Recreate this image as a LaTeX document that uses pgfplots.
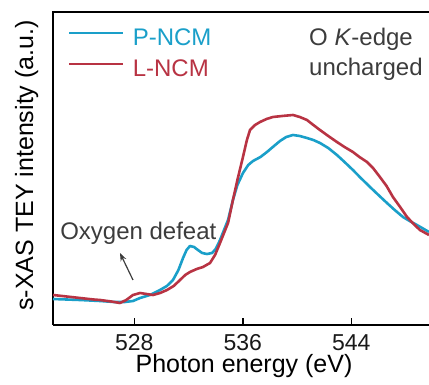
\documentclass[border=0pt]{standalone}
\usepackage{fontspec}
\setmainfont{Liberation Sans}
\usepackage{pgfplots}
\pgfplotsset{compat=1.18}
\usetikzlibrary{calc,arrows.meta}
\definecolor{pblue}{HTML}{1A9FC9}
\definecolor{lred}{HTML}{B83343}
\definecolor{anngray}{HTML}{3C3C3C}
\begin{document}
\begin{tikzpicture}
\begin{axis}[
  scale only axis, width=376pt, height=313pt,
  xmin=522, xmax=549.73, ymin=0, ymax=313,
  clip=false,
  axis lines*=left,
  axis line style={line width=1.6pt, black},
  xtick={528,536,544}, ytick=\empty,
  xtick align=inside, major tick length=7pt,
  tick style={line width=1.6pt, black},
  /pgf/number format/assume math mode=true,
  /pgf/number format/set thousands separator={},
  xticklabel style={font=\fontsize{23}{23}\selectfont, text=black!90, yshift=-6pt},
  xlabel={Photon energy (eV)},
  ylabel={s-XAS TEY intensity (a.u.)},
  every axis x label/.style={at={(rel axis cs:0.508,0)}, anchor=base, yshift=-48pt, font=\fontsize{25}{25}\selectfont, inner sep=0pt},
  every axis y label/.style={at={(rel axis cs:0,0.51)}, anchor=base, rotate=90, yshift=20pt, font=\fontsize{25}{25}\selectfont, inner sep=0pt},
  legend style={draw=none, fill=none, at={(rel axis cs:0,1)}, anchor=north west, xshift=15pt, yshift=-16pt, inner sep=0pt,
    nodes={inner sep=0pt, text height=17pt, text depth=5pt, font=\fontsize{24}{24}\selectfont}, row sep=9pt, column sep=8pt},
  legend cell align=left,
  legend image code/.code={\draw[#1, line width=2.6pt] (0pt,6pt) -- (54pt,6pt);},
]
\addplot[pblue, line width=2.6pt, line join=round] coordinates {
(522.00,26) (523.99,25) (525.47,24) (526.50,23) (527.31,23) (527.90,24) (528.42,27) (529.15,30) (529.89,35) (530.40,39) (530.85,45) (531.25,55) (531.59,67) (531.85,75) (532.10,79) (532.40,78) (532.69,75) (533.00,72) (533.36,71) (533.73,72) (534.00,76) (534.32,85) (534.91,105) (535.27,125) (535.60,140) (536.01,152) (536.40,160) (536.75,164) (537.30,168) (537.78,173) (538.30,179) (538.74,184) (539.20,188) (539.70,190) (540.20,189) (540.73,187) (541.20,185) (541.69,182) (542.30,177) (542.94,170) (543.50,163) (544.12,155) (544.70,147) (545.38,138) (546.00,130) (546.63,122) (547.20,115) (547.81,108) (548.30,104) (548.84,100) (549.73,93)
};
\addlegendentry{\textcolor{pblue}{P-NCM}}
\addplot[lred, line width=2.6pt, line join=round] coordinates {
(522.00,30) (523.00,28.5) (523.99,27) (525.00,25.5) (525.47,25) (526.30,23.5) (526.94,22) (527.40,25) (527.90,30) (528.42,32) (528.90,31) (529.37,30) (529.90,32) (530.41,35) (530.90,39) (531.37,45) (531.75,50) (532.10,53) (532.60,56) (533.06,58) (533.58,62) (533.95,70) (534.32,82) (534.91,102) (535.27,125) (535.60,145) (536.01,168) (536.30,185) (536.53,195) (536.90,200) (537.27,203) (537.75,206) (538.22,208) (538.90,209) (539.70,210) (540.20,208) (540.73,205) (541.20,200) (541.69,195) (542.30,189) (542.94,183) (543.50,178) (544.12,173) (544.60,168) (545.16,163) (545.60,157) (546.11,148) (546.60,139) (547.07,128) (547.60,118) (548.11,108) (548.60,101) (549.06,95) (549.73,90)
};
\addlegendentry{\textcolor{lred}{L-NCM}}
\draw[line width=1.6pt, line cap=rect] (rel axis cs:0,1) -- (rel axis cs:1,1);
\node[anchor=base west, font=\fontsize{24}{24}\selectfont, text=anngray, inner sep=0pt] at (axis cs:540.88,279) {O \textit{K}-edge};
\node[anchor=base west, font=\fontsize{24}{24}\selectfont, text=anngray, inner sep=0pt] at (axis cs:540.88,249) {uncharged};
\node[anchor=base west, font=\fontsize{24}{24}\selectfont, text=anngray, inner sep=0pt] at (axis cs:522.52,85) {Oxygen defeat};
\draw[-{Stealth[length=8pt,width=6pt]}, line width=1.2pt, anngray] (axis cs:527.9,45) -- (axis cs:526.94,72);
\end{axis}
\pgfresetboundingbox
\path ($(current axis.south west)+(-53pt,-60pt)$) rectangle ($(current axis.north east)+(0pt,12pt)$);
\end{tikzpicture}
\end{document}
